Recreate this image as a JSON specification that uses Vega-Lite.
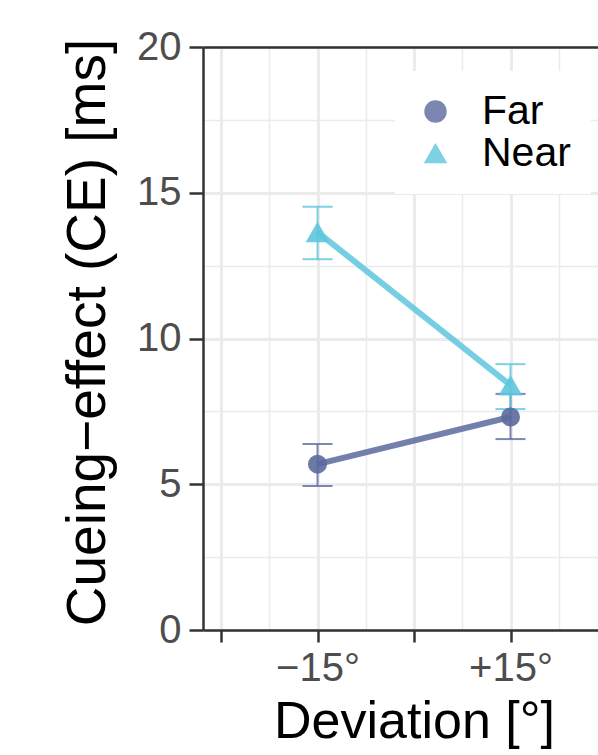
{
  "$schema": "https://vega.github.io/schema/vega-lite/v6.json",
  "width": 395,
  "height": 583,
  "autosize": {"type": "none"},
  "padding": {"left": 203, "top": 47, "right": 0, "bottom": 125},
  "background": "white",
  "config": {
    "view": {"stroke": null},
    "font": "Liberation Sans",
    "axis": {
      "domainColor": "#333333",
      "domainWidth": 2.5,
      "tickColor": "#333333",
      "tickWidth": 2.5,
      "tickSize": 14,
      "labelColor": "#4d4d4d",
      "labelFontSize": 40,
      "labelFont": "Liberation Sans",
      "titleFont": "Liberation Sans",
      "titleFontSize": 52,
      "titleFontWeight": "normal",
      "titleColor": "black",
      "gridColor": "#ebebeb"
    }
  },
  "data": {
    "values": [
      {"dev": -15, "cond": "Far", "ce": 5.69, "lo": 4.94, "hi": 6.38},
      {"dev": 15, "cond": "Far", "ce": 7.31, "lo": 6.55, "hi": 8.10},
      {"dev": -15, "cond": "Near", "ce": 13.65, "lo": 12.72, "hi": 14.52},
      {"dev": 15, "cond": "Near", "ce": 8.40, "lo": 7.58, "hi": 9.12}
    ]
  },
  "layer": [
    {
      "mark": {"type": "point", "opacity": 0},
      "encoding": {
        "x": {
          "field": "dev", "type": "quantitative",
          "scale": {"domain": [-32.8, 28.6], "nice": false, "zero": false},
          "axis": {"orient": "top", "values": [-22.5, -7.5, 7.5, 22.5], "grid": true, "gridWidth": 1.5, "ticks": false, "labels": false, "domain": true, "title": null}
        },
        "y": {
          "field": "ce", "type": "quantitative",
          "scale": {"domain": [0, 20], "nice": false, "zero": false},
          "axis": {"orient": "right", "values": [2.5, 7.5, 12.5, 17.5], "grid": true, "gridWidth": 1.5, "ticks": false, "labels": false, "domain": false, "title": null}
        }
      }
    },
    {
      "mark": {"type": "rule", "strokeWidth": 2, "opacity": 0.8},
      "encoding": {
        "x": {
          "field": "dev", "type": "quantitative",
          "scale": {"domain": [-32.8, 28.6], "nice": false, "zero": false},
          "axis": {
            "orient": "bottom",
            "values": [-30, -15, 0, 15],
            "grid": true, "gridWidth": 3,
            "tickSize": 12,
            "labelPadding": 6,
            "labelExpr": "datum.value == -15 ? '−15°' : (datum.value == 15 ? '+15°' : '')",
            "title": "Deviation [°]",
            "titleX": 211,
            "titlePadding": 8
          }
        },
        "y": {
          "field": "lo", "type": "quantitative",
          "scale": {"domain": [0, 20], "nice": false, "zero": false},
          "axis": {
            "orient": "left",
            "values": [0, 5, 10, 15, 20],
            "grid": true, "gridWidth": 3,
            "labelPadding": 8,
            "title": "Cueing−effect (CE) [ms]",
            "titleFontSize": 55,
            "titleY": 285,
            "titlePadding": 20
          }
        },
        "y2": {"field": "hi"},
        "color": {"field": "cond", "type": "nominal", "scale": {"domain": ["Far", "Near"], "range": ["#5b6a9d", "#5ec6dd"]}}
      }
    },
    {
      "mark": {"type": "tick", "orient": "horizontal", "size": 30, "thickness": 2, "opacity": 0.8},
      "encoding": {
        "x": {"field": "dev", "type": "quantitative", "scale": {"domain": [-32.8, 28.6], "nice": false, "zero": false}, "axis": null},
        "y": {"field": "lo", "type": "quantitative", "scale": {"domain": [0, 20], "nice": false, "zero": false}, "axis": null},
        "color": {"field": "cond", "type": "nominal", "scale": {"domain": ["Far", "Near"], "range": ["#5b6a9d", "#5ec6dd"]}}
      }
    },
    {
      "mark": {"type": "tick", "orient": "horizontal", "size": 30, "thickness": 2, "opacity": 0.8},
      "encoding": {
        "x": {"field": "dev", "type": "quantitative", "scale": {"domain": [-32.8, 28.6], "nice": false, "zero": false}, "axis": null},
        "y": {"field": "hi", "type": "quantitative", "scale": {"domain": [0, 20], "nice": false, "zero": false}, "axis": null},
        "color": {"field": "cond", "type": "nominal", "scale": {"domain": ["Far", "Near"], "range": ["#5b6a9d", "#5ec6dd"]}}
      }
    },
    {
      "mark": {"type": "line", "strokeWidth": 6, "opacity": 0.85},
      "encoding": {
        "x": {"field": "dev", "type": "quantitative", "scale": {"domain": [-32.8, 28.6], "nice": false, "zero": false}, "axis": null},
        "y": {"field": "ce", "type": "quantitative", "scale": {"domain": [0, 20], "nice": false, "zero": false}, "axis": null},
        "color": {"field": "cond", "type": "nominal", "scale": {"domain": ["Far", "Near"], "range": ["#5b6a9d", "#5ec6dd"]}}
      }
    },
    {
      "transform": [{"filter": "datum.cond == 'Far'"}],
      "mark": {"type": "point", "filled": true, "opacity": 0.9, "size": 361},
      "encoding": {
        "x": {"field": "dev", "type": "quantitative", "scale": {"domain": [-32.8, 28.6], "nice": false, "zero": false}, "axis": null},
        "y": {"field": "ce", "type": "quantitative", "scale": {"domain": [0, 20], "nice": false, "zero": false}, "axis": null},
        "color": {"field": "cond", "type": "nominal", "scale": {"domain": ["Far", "Near"], "range": ["#5b6a9d", "#5ec6dd"]}},
        "shape": {"field": "cond", "type": "nominal", "scale": {"domain": ["Far", "Near"], "range": ["circle", "triangle-up"]}}
      }
    },
    {
      "transform": [{"filter": "datum.cond == 'Near'"}],
      "mark": {"type": "point", "filled": true, "opacity": 0.9, "size": 560},
      "encoding": {
        "x": {"field": "dev", "type": "quantitative", "scale": {"domain": [-32.8, 28.6], "nice": false, "zero": false}, "axis": null},
        "y": {"field": "ce", "type": "quantitative", "scale": {"domain": [0, 20], "nice": false, "zero": false}, "axis": null},
        "color": {
          "field": "cond", "type": "nominal",
          "scale": {"domain": ["Far", "Near"], "range": ["#5b6a9d", "#5ec6dd"]},
          "legend": {
            "orient": "none", "legendX": 192, "legendY": 24,
            "title": null, "fillColor": "white", "padding": 20,
            "labelFont": "Liberation Sans", "labelFontSize": 41, "labelColor": "black",
            "symbolSize": 440, "symbolOpacity": 0.9,
            "labelOffset": 26, "rowPadding": 0
          }
        },
        "shape": {
          "field": "cond", "type": "nominal",
          "scale": {"domain": ["Far", "Near"], "range": ["circle", "triangle-up"]},
          "legend": {
            "orient": "none", "legendX": 192, "legendY": 24,
            "title": null, "fillColor": "white", "padding": 20,
            "labelFont": "Liberation Sans", "labelFontSize": 41, "labelColor": "black",
            "symbolSize": 440, "symbolOpacity": 0.9,
            "labelOffset": 26, "rowPadding": 0
          }
        }
      }
    }
  ],
  "resolve": {"axis": {"x": "independent", "y": "independent"}}
}
